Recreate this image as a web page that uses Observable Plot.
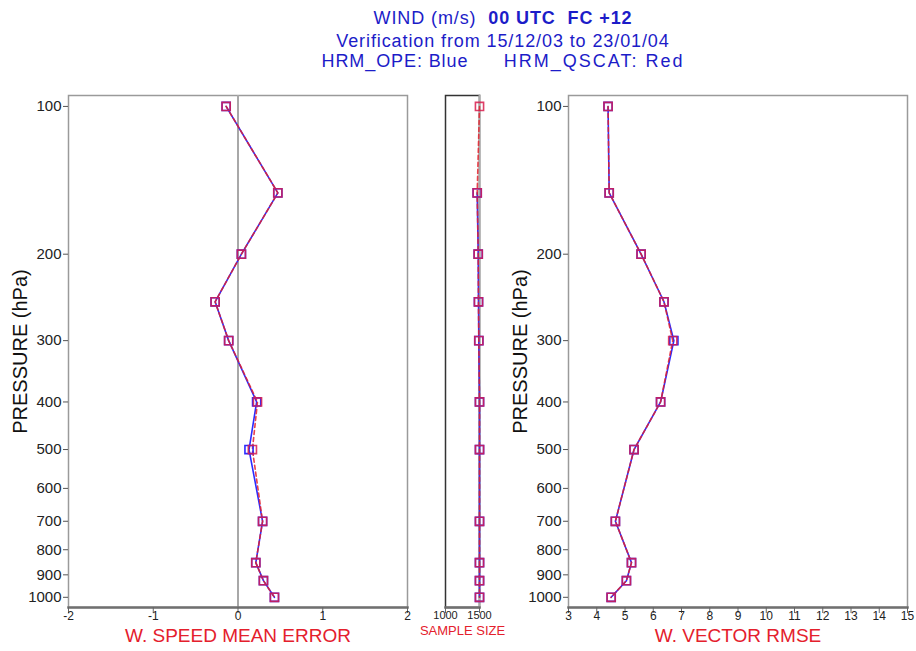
<!DOCTYPE html>
<html><head><meta charset="utf-8">
<script src="https://cdn.jsdelivr.net/npm/d3@7"></script>
<script src="https://cdn.jsdelivr.net/npm/@observablehq/plot@0.6"></script>
<style>
body{margin:0;background:#fff;font-family:"Liberation Sans",Arial,sans-serif;}
#wrap{position:relative;width:916px;height:651px;overflow:hidden;background:#fff;}
.t{position:absolute;left:0;width:1006px;text-align:center;color:#1c1cc8;font-size:18px;line-height:21px;letter-spacing:0.9px;white-space:pre;}
.p{position:absolute;top:0;}
</style></head><body>
<div id="wrap">
  <div class="t" style="top:8px">WIND (m/s)  <b>00 UTC  FC +12</b></div>
  <div class="t" style="top:31px">Verification from 15/12/03 to 23/01/04</div>
  <div class="t" style="top:51px">HRM_OPE: Blue      <span style="letter-spacing:2px">HRM_QSCAT: Red</span></div>
  <div class="p" id="left" style="left:0px"></div>
  <div class="p" id="mid" style="left:420px"></div>
  <div class="p" id="right" style="left:500px"></div>
</div>
<script>
const levels = [100, 150, 200, 250, 300, 400, 500, 700, 850, 925, 1000];
const meanErrOpe   = [-0.14, 0.47, 0.04, -0.27, -0.11, 0.22, 0.13, 0.29, 0.21, 0.30, 0.43];
const meanErrQscat = [-0.14, 0.47, 0.04, -0.27, -0.11, 0.23, 0.17, 0.29, 0.21, 0.30, 0.43];
const sampleOpe    = [null, 1466, 1481, 1485, 1490, 1500, 1500, 1500, 1500, 1500, 1500];
const sampleQscat  = [1500, 1466, 1481, 1485, 1490, 1500, 1500, 1500, 1500, 1500, 1500];
const rmseOpe      = [4.40, 4.44, 5.57, 6.38, 6.73, 6.26, 5.32, 4.66, 5.23, 5.05, 4.51];
const rmseQscat    = [4.40, 4.44, 5.57, 6.38, 6.69, 6.26, 5.32, 4.66, 5.23, 5.05, 4.51];
const pressureTicks = [100, 200, 300, 400, 500, 600, 700, 800, 900, 1000];
const meTicks = [-2, -1, 0, 1, 2];
const sampleTicks = [1000, 1500];
const rmseTicks = [3, 4, 5, 6, 7, 8, 9, 10, 11, 12, 13, 14, 15];

const BLUE = "#2b2bff", RED = "#e4202c";
const FONT = "Liberation Sans, Arial, sans-serif";

function panel({width, ml, mr, xDomain, xTicks, ope, qscat, xLabel, xLabelSize, xLabelDy, tickFont, yAxis, extra, frameStroke}) {
  const rows = levels.map((p, i) => ({p, ope: ope[i], q: qscat[i]}));
  const marks = [
    Plot.frame({stroke: frameStroke || "#9a9a9a", strokeWidth: 1.5}),
    ...(extra || []),
    Plot.frame({anchor: "bottom", stroke: "#707070", strokeWidth: 2.5}),
    Plot.axisX({ticks: xTicks, tickFormat: d => String(d), tickSize: 6, tickPadding: -2, stroke: "#666", fill: "#222", fontSize: tickFont, label: null}),
    Plot.line(rows, {x: "ope", y: "p", stroke: BLUE, strokeWidth: 1.6}),
    Plot.line(rows, {x: "q", y: "p", stroke: RED, strokeWidth: 1.6, strokeDasharray: "4,3", strokeOpacity: 0.85}),
    Plot.dot(rows, {x: "ope", y: "p", symbol: "square", r: 4.6, stroke: BLUE, fill: "none", strokeWidth: 1.6}),
    Plot.dot(rows, {x: "q", y: "p", symbol: "square", r: 4.6, stroke: "#d81c4c", fill: "none", strokeWidth: 1.6, strokeOpacity: 0.85}),
    Plot.text([xLabel], {frameAnchor: "bottom", dy: xLabelDy, fill: RED, fontSize: xLabelSize, textAnchor: "middle"})
  ];
  if (yAxis) {
    marks.push(Plot.axisY({ticks: pressureTicks, tickFormat: d => String(d), tickSize: 5, tickPadding: 2, stroke: "#555", fill: "#222", fontSize: 15, label: null}));
    marks.push(Plot.text(["PRESSURE (hPa)"], {frameAnchor: "left", dx: -48, rotate: -90, textAnchor: "middle", fontSize: 20, fill: "#111"}));
  } else {
    marks.push(Plot.axisY({ticks: [], label: null}));
  }
  return Plot.plot({
    width, height: 651,
    marginLeft: ml, marginRight: mr, marginTop: 95, marginBottom: 44,
    style: {fontFamily: FONT, fontSize: "15px", background: "transparent", overflow: "visible", color: "#222"},
    x: {domain: xDomain},
    y: {type: "log", domain: [95, 1049], reverse: true},
    marks
  });
}

document.getElementById("left").append(panel({
  width: 420, ml: 68, mr: 13, xDomain: [-2, 2], xTicks: meTicks,
  ope: meanErrOpe, qscat: meanErrQscat,
  xLabel: "W. SPEED MEAN ERROR", xLabelSize: 19, xLabelDy: 34, tickFont: 12, yAxis: true,
  extra: [Plot.ruleX([0], {stroke: "#a8a8a8", strokeWidth: 2})]
}));

document.getElementById("mid").append(panel({
  width: 80, ml: 25, mr: 21, xDomain: [1000, 1500], xTicks: sampleTicks,
  ope: sampleOpe, qscat: sampleQscat,
  xLabel: "SAMPLE SIZE", xLabelSize: 13, xLabelDy: 27, tickFont: 11, yAxis: false,
  frameStroke: "#333",
  extra: [Plot.frame({anchor: "right", stroke: "#aaa", strokeWidth: 2})]
}));

document.getElementById("right").append(panel({
  width: 416, ml: 68, mr: 9, xDomain: [3, 15], xTicks: rmseTicks,
  ope: rmseOpe, qscat: rmseQscat,
  xLabel: "W. VECTOR RMSE", xLabelSize: 19, xLabelDy: 34, tickFont: 12, yAxis: true
}));
</script>
</body></html>
